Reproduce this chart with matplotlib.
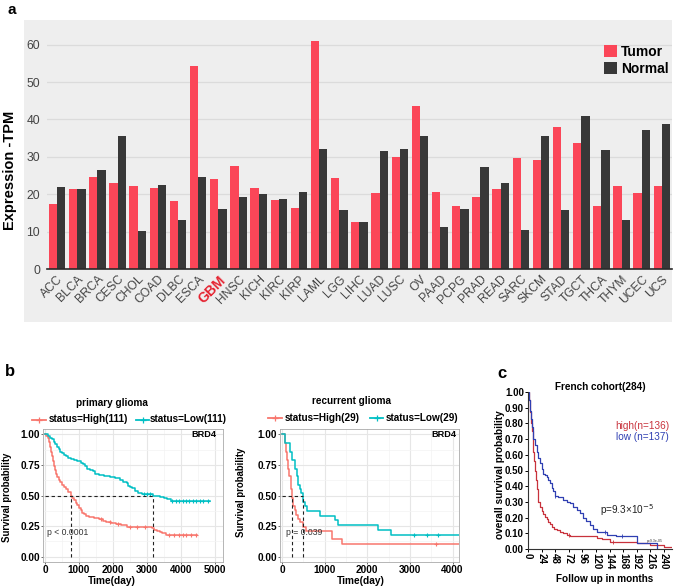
import numpy as np
import matplotlib
matplotlib.use('Agg')
import matplotlib.pyplot as plt
from matplotlib.lines import Line2D
from matplotlib.patches import Rectangle

plt.rcParams['font.family'] = ['Liberation Sans', 'DejaVu Sans']

# ---------------- data: panel a ----------------
cancers = ['ACC', 'BLCA', 'BRCA', 'CESC', 'CHOL', 'COAD', 'DLBC', 'ESCA', 'GBM', 'HNSC',
           'KICH', 'KIRC', 'KIRP', 'LAML', 'LGG', 'LIHC', 'LUAD', 'LUSC', 'OV', 'PAAD',
           'PCPG', 'PRAD', 'READ', 'SARC', 'SKCM', 'STAD', 'TGCT', 'THCA', 'THYM', 'UCEC', 'UCS']
tumor = [17.3, 21.5, 24.6, 23.0, 22.2, 21.7, 18.1, 54.2, 24.2, 27.5,
         21.8, 18.5, 16.2, 61.1, 24.3, 12.7, 20.2, 29.9, 43.5, 20.5,
         16.8, 19.3, 21.5, 29.6, 29.1, 38.1, 33.8, 16.9, 22.3, 20.3, 22.3]
normal = [21.9, 21.3, 26.6, 35.6, 10.2, 22.4, 13.2, 24.7, 16.0, 19.3,
          20.1, 18.6, 20.5, 32.1, 15.9, 12.7, 31.5, 32.0, 35.6, 11.3,
          16.0, 27.4, 23.1, 10.5, 35.5, 15.8, 40.9, 31.9, 13.2, 37.2, 38.9]

# ---------------- data: panel b (primary glioma) ----------------
prim_high_t = [0, 40, 80, 110, 140, 170, 200, 230, 260, 290, 320, 360, 400, 450, 500, 560, 620, 680,
               750, 800, 850, 900, 950, 1000, 1050, 1100, 1150, 1200, 1300, 1450, 1600, 1700, 1800,
               1950, 2100, 2250, 2400, 3150, 3220, 3300, 3380, 3450, 3550, 4480]
prim_high_s = [1.0, 0.99, 0.97, 0.94, 0.90, 0.86, 0.82, 0.78, 0.74, 0.71, 0.68, 0.65, 0.63, 0.61, 0.59,
               0.57, 0.55, 0.53, 0.50, 0.48, 0.46, 0.44, 0.42, 0.40, 0.38, 0.36, 0.345, 0.335, 0.325,
               0.315, 0.305, 0.295, 0.285, 0.275, 0.265, 0.255, 0.245, 0.235, 0.22, 0.21, 0.20, 0.19,
               0.18, 0.18]
prim_low_t = [0, 80, 150, 200, 250, 300, 350, 400, 450, 500, 560, 620, 680, 750, 850, 950, 1050,
              1120, 1180, 1250, 1320, 1400, 1480, 1600, 1750, 1900, 2050, 2200, 2300, 2400, 2450,
              2500, 2560, 2650, 2750, 2850, 3180, 3380, 3500, 3600, 3700, 4850]
prim_low_s = [1.0, 0.99, 0.97, 0.96, 0.94, 0.92, 0.90, 0.88, 0.86, 0.85, 0.83, 0.82, 0.81, 0.80, 0.79,
              0.78, 0.77, 0.76, 0.74, 0.72, 0.71, 0.70, 0.68, 0.67, 0.66, 0.65, 0.64, 0.63, 0.61,
              0.60, 0.58, 0.57, 0.56, 0.54, 0.52, 0.51, 0.50, 0.49, 0.48, 0.47, 0.455, 0.455]
prim_high_cens = [1650, 1900, 2150, 2500, 2700, 2950, 3650, 3800, 3950, 4050, 4150, 4300, 4450]
prim_low_cens = [2900, 3000, 3100, 3750, 3850, 3950, 4050, 4150, 4250, 4350, 4450, 4550, 4650, 4800]

# ---------------- data: panel b (recurrent glioma) ----------------
rec_high_t = [0, 60, 100, 120, 140, 150, 200, 215, 240, 260, 300, 330, 370, 420, 500, 560, 1180, 1400, 4300]
rec_high_s = [1.0, 0.93, 0.86, 0.79, 0.72, 0.66, 0.62, 0.55, 0.48, 0.41, 0.38, 0.34, 0.31, 0.28,
              0.24, 0.21, 0.14, 0.10, 0.10]
rec_low_t = [0, 70, 190, 230, 300, 340, 380, 410, 440, 480, 500, 530, 580, 900, 1250, 1300, 2250, 2550, 4300]
rec_low_s = [1.0, 0.93, 0.86, 0.79, 0.72, 0.66, 0.59, 0.55, 0.52, 0.48, 0.45, 0.41, 0.37, 0.33,
             0.30, 0.26, 0.22, 0.18, 0.18]
rec_high_cens = [3600]
rec_low_cens = [3100, 3400, 3650]

# ---------------- data: panel c (French cohort) ----------------
fr_high_t = [0, 2, 3.5, 5, 6.5, 8, 9.4, 11, 12.4, 14, 15.3, 17, 18.2, 21, 24, 27, 30, 33, 36, 39, 42,
             46, 50.6, 56, 62, 68, 74, 121, 130, 145, 192, 215, 240, 255]
fr_high_s = [1.0, 0.95, 0.875, 0.80, 0.75, 0.68, 0.62, 0.56, 0.50, 0.44, 0.38, 0.33, 0.30, 0.27, 0.24,
             0.22, 0.205, 0.19, 0.175, 0.16, 0.14, 0.13, 0.12, 0.11, 0.10, 0.09, 0.08, 0.07, 0.064,
             0.047, 0.036, 0.026, 0.015, 0.015]
fr_low_t = [0, 2, 3.5, 5, 6.5, 8, 9.4, 12, 15.3, 18, 21.2, 24, 27, 30, 33, 36, 38.8, 42, 44.7, 47.6,
            53.5, 62.4, 68, 74, 80, 86, 92, 97.6, 103, 109, 115, 121, 139, 156, 192, 227]
fr_low_s = [1.0, 0.95, 0.88, 0.83, 0.78, 0.74, 0.70, 0.66, 0.62, 0.58, 0.55, 0.51, 0.48, 0.47, 0.46,
            0.44, 0.42, 0.39, 0.37, 0.34, 0.33, 0.31, 0.30, 0.29, 0.27, 0.25, 0.23, 0.20, 0.18, 0.15,
            0.13, 0.11, 0.09, 0.08, 0.04, 0.0]
fr_high_cens = [72, 150]
fr_low_cens = [48, 136, 165]

# ---------------- figure ----------------
W, H = 676, 587
fig = plt.figure(figsize=(W / 100, H / 100), dpi=100)


def fx(px):
    return px / W


def fy(py):
    return 1 - py / H


def surv_at(t, s, q):
    idx = np.searchsorted(np.asarray(t), np.asarray(q), side='right') - 1
    return np.asarray(s)[idx]


def median_time(t, s):
    s = np.asarray(s)
    return np.asarray(t)[np.argmax(s <= 0.5)]


# ---------- panel a ----------
BG = '#EEEEEE'
fig.add_artist(Rectangle((fx(24), fy(322)), fx(672) - fx(24), fy(20) - fy(322),
                         transform=fig.transFigure, facecolor=BG, edgecolor='none', zorder=0))
axA = fig.add_axes([fx(47), fy(269), fx(672) - fx(47), fy(26) - fy(269)])
axA.set_facecolor(BG)
x = np.arange(len(cancers))
bw = 0.41
RED = '#FB4658'
DARK = '#383838'
axA.bar(x - bw / 2, tumor, width=bw, color=RED, label='Tumor', zorder=3)
axA.bar(x + bw / 2, normal, width=bw, color=DARK, label='Normal', zorder=3)
axA.set_xlim(-0.5, len(cancers) - 0.5)
axA.set_ylim(0, 65)
axA.set_yticks(np.arange(0, 61, 10))
axA.yaxis.grid(True, color='#DBDBDB', lw=0.9, zorder=0)
for sp in ['top', 'right', 'left']:
    axA.spines[sp].set_visible(False)
axA.spines['bottom'].set_color('#2A2A2A')
axA.spines['bottom'].set_linewidth(1.2)
axA.spines['bottom'].set_zorder(4)
axA.tick_params(axis='both', length=0, labelsize=8.7, labelcolor='#444444')
axA.tick_params(axis='y', pad=5)
axA.set_xticks(x)
axA.set_xticklabels(cancers, rotation=45, ha='right', va='top', rotation_mode='anchor')
axA.tick_params(axis='x', pad=3)
for lab in axA.get_xticklabels():
    if lab.get_text() == 'GBM':
        lab.set_color('#E5202E')
        lab.set_fontweight('bold')
        lab.set_fontsize(10)
fig.text(fx(10), fy(170), 'Expression -TPM', rotation=90, ha='center', va='center',
         fontsize=10.5, fontweight='bold')
fig.text(fx(8), fy(10), 'a', fontsize=11, fontweight='bold', ha='left', va='center')
leg = axA.legend(loc='upper right', bbox_to_anchor=(fx(674), fy(39)), bbox_transform=fig.transFigure,
                 frameon=False, prop={'weight': 'bold', 'size': 10}, handlelength=0.9,
                 handleheight=0.9, handletextpad=0.3, labelspacing=0.25, borderaxespad=0)

# ---------- panel b ----------
C_RED = '#F8766D'
C_CYAN = '#00BFC4'


def km_axes(rect, xlim, xticks, minor):
    ax = fig.add_axes(rect)
    ax.set_xlim(*xlim)
    ax.set_ylim(-0.045, 1.045)
    ax.set_xticks(xticks)
    ax.set_xticks(minor, minor=True)
    ax.set_yticks([0, 0.25, 0.5, 0.75, 1.0])
    ax.set_yticks([0.125, 0.375, 0.625, 0.875], minor=True)
    ax.set_yticklabels(['0.00', '0.25', '0.50', '0.75', '1.00'])
    ax.grid(True, which='major', color='#E6E6E6', lw=0.8)
    ax.grid(True, which='minor', color='#F3F3F3', lw=0.5)
    ax.set_axisbelow(True)
    for sp in ax.spines.values():
        sp.set_color('#AAAAAA')
        sp.set_linewidth(0.6)
    ax.tick_params(which='major', length=1.5, width=0.6, color='#555555', labelsize=7.2, pad=0.6)
    ax.tick_params(which='minor', length=0)
    for lab in ax.get_xticklabels() + ax.get_yticklabels():
        lab.set_fontweight('bold')
    return ax


def km_draw(ax, t1, s1, c1, t2, s2, c2, cen1, cen2):
    ax.step(t1, s1, where='post', color=C_RED, lw=1.1)
    ax.step(t2, s2, where='post', color=C_CYAN, lw=1.1)
    ax.plot(cen1, surv_at(t1, s1, cen1), '+', color=C_RED, ms=3.5, mew=0.8)
    ax.plot(cen2, surv_at(t2, s2, cen2), '+', color=C_CYAN, ms=3.5, mew=0.8)
    m1 = median_time(t1, s1)
    m2 = median_time(t2, s2)
    ax.plot([0, max(m1, m2)], [0.5, 0.5], ls=(0, (3, 2.5)), color='#222222', lw=0.8)
    ax.plot([m1, m1], [0, 0.5], ls=(0, (3, 2.5)), color='#222222', lw=0.8)
    ax.plot([m2, m2], [0, 0.5], ls=(0, (3, 2.5)), color='#222222', lw=0.8)


axB1 = km_axes([fx(43), fy(562), fx(223) - fx(43), fy(429) - fy(562)], (-60, 5240),
               [0, 1000, 2000, 3000, 4000, 5000], [500, 1500, 2500, 3500, 4500])
km_draw(axB1, prim_high_t, prim_high_s, C_RED, prim_low_t, prim_low_s, C_CYAN,
        prim_high_cens, prim_low_cens)
axB1.text(5050, 1.0, 'BRD4', ha='right', va='center', fontsize=6.6, fontweight='bold')
axB1.text(60, 0.2, 'p < 0.0001', ha='left', va='center', fontsize=6.2, color='#333333')

axB2 = km_axes([fx(280), fy(562), fx(459) - fx(280), fy(429) - fy(562)], (-50, 4150),
               [0, 1000, 2000, 3000, 4000], [500, 1500, 2500, 3500])
km_draw(axB2, rec_high_t, rec_high_s, C_RED, rec_low_t, rec_low_s, C_CYAN,
        rec_high_cens, rec_low_cens)
axB2.text(4080, 1.0, 'BRD4', ha='right', va='center', fontsize=6.6, fontweight='bold')
axB2.text(100, 0.2, 'p = 0.039', ha='left', va='center', fontsize=6.2, color='#333333')

# labels / legends for b
fig.text(fx(5), fy(371), 'b', fontsize=12, fontweight='bold', ha='left', va='center')
for (xc, xl) in [(fx(7.5), fy(497)), (fx(241), fy(492))]:
    fig.text(xc, xl, 'Survival probability', rotation=90, ha='center', va='center',
             fontsize=6.9, fontweight='bold')
fig.text(fx(112), fy(580.5), 'Time(day)', ha='center', va='center', fontsize=7.3, fontweight='bold')
fig.text(fx(361), fy(580.5), 'Time(day)', ha='center', va='center', fontsize=7.3, fontweight='bold')
fig.text(fx(112), fy(403), 'primary glioma', ha='center', va='center', fontsize=7.2, fontweight='bold')
fig.text(fx(351), fy(401), 'recurrent glioma', ha='center', va='center', fontsize=7.2, fontweight='bold')


def legend_key(x0, x1, y, color, text, tx):
    fig.add_artist(Line2D([fx(x0), fx(x1)], [fy(y), fy(y)], color=color, lw=1.3,
                          transform=fig.transFigure))
    fig.add_artist(Line2D([fx((x0 + x1) / 2)], [fy(y)], color=color, marker='+', ms=4, mew=0.9,
                          transform=fig.transFigure))
    fig.text(fx(tx), fy(y), text, ha='left', va='center', fontsize=7.2, fontweight='bold')


legend_key(32, 46, 419.5, C_RED, 'status=High(111)', 49)
legend_key(136, 149, 419.5, C_CYAN, 'status=Low(111)', 150)
legend_key(268, 282, 418, C_RED, 'status=High(29)', 285)
legend_key(370, 383, 418, C_CYAN, 'status=Low(29)', 386)

# ---------- panel c ----------
F_RED = '#C8323C'
F_BLUE = '#2F3FB2'
axC = fig.add_axes([fx(528), fy(549), fx(672) - fx(528), fy(392) - fy(549)])
axC.step(fr_high_t, fr_high_s, where='post', color=F_RED, lw=0.9)
axC.step(fr_low_t, fr_low_s, where='post', color=F_BLUE, lw=0.9)
axC.plot(fr_high_cens, surv_at(fr_high_t, fr_high_s, fr_high_cens), '|', color=F_RED, ms=3, mew=0.6)
axC.plot(fr_low_cens, surv_at(fr_low_t, fr_low_s, fr_low_cens), '|', color=F_BLUE, ms=3, mew=0.6)
axC.set_xlim(0, 254)
axC.set_ylim(0, 1.0)
axC.set_xticks(np.arange(0, 241, 24))
axC.set_yticks(np.arange(0, 1.01, 0.1))
axC.set_yticklabels(['%.2f' % v for v in np.arange(0, 1.01, 0.1)])
axC.set_xticklabels([str(v) for v in np.arange(0, 241, 24)], rotation=270)
for sp in ['top', 'right']:
    axC.spines[sp].set_visible(False)
for sp in ['left', 'bottom']:
    axC.spines[sp].set_color('#333333')
    axC.spines[sp].set_linewidth(0.8)
axC.tick_params(length=2.5, width=0.7, labelsize=7, pad=0.5)
for lab in axC.get_xticklabels() + axC.get_yticklabels():
    lab.set_fontweight('bold')
fig.text(fx(502), fy(373), 'c', fontsize=12, fontweight='bold', ha='center', va='center')
fig.text(fx(600.5), fy(387), 'French cohort(284)', ha='center', va='center', fontsize=7.2, fontweight='bold')
fig.text(fx(500), fy(475), 'overall survival probability', rotation=90, ha='center', va='center',
         fontsize=7.3, fontweight='bold')
fig.text(fx(605), fy(579), 'Follow up in months', ha='center', va='center', fontsize=7.2, fontweight='bold')
fig.text(fx(669), fy(426), 'high(n=136)', ha='right', va='center', fontsize=7.2, color=F_RED)
fig.text(fx(669), fy(437.5), 'low (n=137)', ha='right', va='center', fontsize=7.2, color=F_BLUE)
fig.text(fx(600), fy(510), r'p=9.3×10$^{-5}$', ha='left', va='center', fontsize=7.2, color='#222222')
fig.text(fx(655), fy(541), 'p=9.3e-05', ha='center', va='center', fontsize=2.5, color='#333333')

fig.savefig('out.png', dpi=100)
